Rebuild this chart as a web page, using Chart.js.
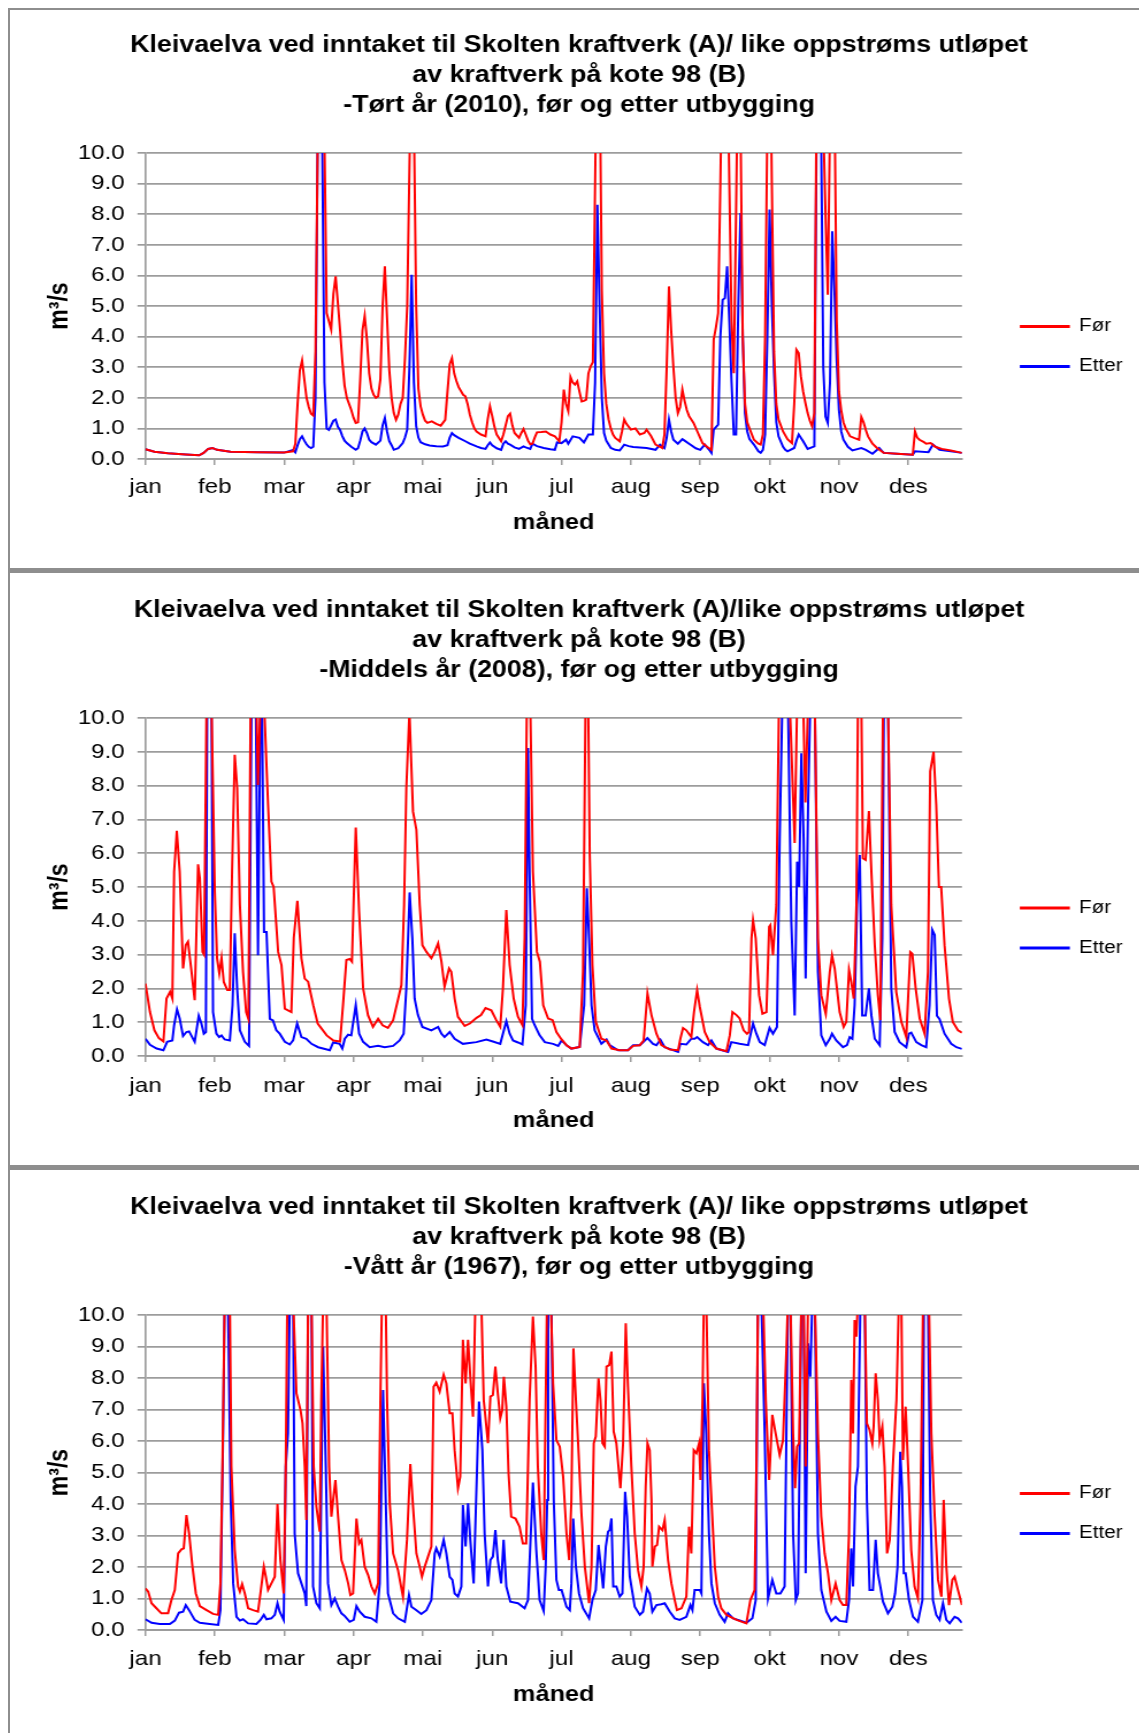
<!DOCTYPE html>
<html>
<head>
<meta charset="utf-8">
<script src="https://cdn.jsdelivr.net/npm/chart.js@4.4.1/dist/chart.umd.min.js"></script>
<style>
  html, body { margin: 0; padding: 0; background: #fff; overflow: hidden; width: 1139px; height: 1733px; }
  .wrap { position: absolute; left: 10px; transform-origin: 0 0; transform: scaleX(1.15); }
  .frame { position: absolute; background: #8e8e8e; z-index: 5; }
</style>
</head>
<body>
<div class="wrap" style="top:31px"><canvas id="dry" width="990" height="631"></canvas></div>
<div class="wrap" style="top:596px"><canvas id="mid" width="990" height="664"></canvas></div>
<div class="wrap" style="top:1193px"><canvas id="wet" width="990" height="641"></canvas></div>

<div class="frame" style="left:8px;top:8px;width:2px;height:1725px"></div>
<div class="frame" style="left:8px;top:8px;width:1131px;height:2px"></div>
<div class="frame" style="left:8px;top:568px;width:1131px;height:5px"></div>
<div class="frame" style="left:8px;top:1165px;width:1131px;height:5px"></div>

<script>
// month axis: Excel category axis with a tick every 31 days
const monthLabels = ['jan', 'feb', 'mar', 'apr', 'mai', 'jun', 'jul', 'aug', 'sep', 'okt', 'nov', 'des'];
const monthStarts = [0, 31, 62, 93, 124, 155, 186, 217, 248, 279, 310, 341];

// [day, m3/s]
const dryFor = [[0,0.32],[4,0.24],[10,0.19],[18,0.15],[24,0.12],[26,0.2],[28,0.33],[30,0.36],[32,0.3],[38,0.24],[50,0.22],[62,0.21],[66,0.25],[67,0.5],[68,1.8],[69,2.9],[70,3.22],[71,2.6],[72,2.0],[73,1.7],[74,1.48],[75,1.42],[76,3.5],[77,10.5],[78,15],[79,14],[80,10.5],[81,4.77],[82,4.5],[83,4.23],[84,5.4],[85,5.97],[86,5.1],[87,4.2],[88,3.2],[89,2.4],[90,2.0],[91,1.8],[92,1.6],[93,1.35],[94,1.18],[95,1.2],[96,2.6],[97,4.2],[98,4.68],[99,3.9],[100,2.8],[101,2.3],[102,2.1],[103,2.0],[104,2.05],[105,2.6],[106,5.0],[107,6.3],[108,4.6],[109,2.9],[110,2.0],[111,1.5],[112,1.28],[113,1.45],[114,1.8],[115,2.0],[116,3.3],[117,5.0],[118,9.5],[119,14],[120,11],[121,5.0],[122,2.3],[123,1.72],[124,1.45],[125,1.25],[126,1.18],[128,1.23],[130,1.15],[132,1.09],[134,1.28],[135,2.2],[136,3.1],[137,3.3],[138,2.8],[139,2.55],[140,2.35],[142,2.1],[143,2.05],[144,1.8],[145,1.45],[146,1.2],[147,1.0],[148,0.9],[150,0.8],[152,0.74],[153,1.3],[154,1.72],[155,1.4],[156,1.05],[157,0.8],[159,0.58],[160,0.8],[161,1.1],[162,1.4],[163,1.48],[164,1.1],[165,0.85],[167,0.69],[168,0.85],[169,0.98],[170,0.8],[171,0.6],[172,0.48],[173,0.5],[174,0.7],[175,0.87],[177,0.88],[179,0.9],[181,0.8],[183,0.74],[185,0.58],[186,1.2],[187,2.27],[188,1.8],[189,1.56],[190,2.68],[191,2.5],[192,2.43],[193,2.54],[194,2.2],[195,1.88],[196,1.9],[197,1.94],[198,2.8],[199,3.03],[200,3.16],[201,9.0],[202,15],[203,13],[204,5.5],[205,2.8],[206,1.8],[207,1.3],[208,1.0],[209,0.8],[210,0.69],[212,0.58],[213,0.9],[214,1.29],[215,1.15],[217,0.96],[219,1.0],[221,0.8],[223,0.85],[224,0.96],[226,0.75],[228,0.47],[230,0.4],[231,0.36],[232,0.8],[233,3.0],[234,5.64],[235,4.2],[236,3.0],[237,2.0],[238,1.5],[239,1.7],[240,2.27],[241,1.9],[242,1.6],[243,1.4],[245,1.18],[247,0.85],[249,0.52],[251,0.4],[253,0.3],[254,3.9],[255,4.3],[256,4.77],[257,9.0],[258,14],[260,14],[261,9.0],[262,4.5],[263,2.8],[264,8.0],[265,14],[266,11],[267,4.0],[268,1.8],[269,1.2],[270,1.0],[272,0.63],[274,0.5],[275,0.47],[276,0.8],[277,4.0],[278,11],[279,15],[280,9.0],[281,3.5],[282,1.8],[283,1.29],[285,0.9],[287,0.65],[289,0.52],[290,1.8],[291,3.57],[292,3.46],[293,2.7],[294,2.2],[295,1.83],[296,1.5],[297,1.25],[298,1.07],[299,1.5],[300,12],[301,16],[302,15],[303,11],[304,8.0],[305,5.37],[306,11],[307,15],[308,12],[309,4.5],[310,2.2],[311,1.6],[312,1.2],[313,1.0],[315,0.74],[317,0.68],[319,0.63],[320,1.37],[321,1.2],[322,0.95],[323,0.74],[325,0.5],[327,0.36],[330,0.2],[336,0.17],[343,0.14],[344,0.9],[345,0.7],[346,0.63],[348,0.55],[349,0.5],[351,0.52],[353,0.4],[356,0.33],[360,0.28],[365,0.2]];
const dryEtter = [[0,0.32],[4,0.24],[10,0.19],[18,0.15],[24,0.12],[26,0.2],[28,0.33],[30,0.36],[32,0.3],[38,0.24],[50,0.22],[62,0.21],[66,0.3],[67,0.22],[68,0.45],[69,0.65],[70,0.74],[71,0.6],[72,0.48],[73,0.4],[74,0.36],[75,0.4],[76,2.0],[77,10.5],[78,16],[79,10.5],[80,2.5],[81,1.0],[82,0.95],[83,1.1],[84,1.25],[85,1.29],[86,1.05],[87,0.95],[88,0.75],[89,0.6],[90,0.52],[92,0.4],[94,0.3],[95,0.35],[96,0.6],[97,0.9],[98,1.0],[99,0.85],[100,0.63],[101,0.55],[103,0.47],[105,0.6],[106,1.1],[107,1.34],[108,0.9],[109,0.58],[110,0.45],[111,0.3],[113,0.35],[115,0.52],[116,0.7],[117,0.96],[118,3.0],[119,6.02],[120,2.5],[121,1.07],[122,0.7],[123,0.55],[125,0.48],[127,0.44],[130,0.42],[133,0.41],[135,0.45],[136,0.7],[137,0.85],[138,0.78],[140,0.69],[143,0.58],[145,0.5],[148,0.41],[150,0.36],[152,0.33],[153,0.45],[154,0.54],[155,0.45],[157,0.35],[159,0.3],[160,0.5],[161,0.58],[162,0.5],[163,0.47],[165,0.38],[167,0.33],[169,0.41],[170,0.38],[172,0.33],[173,0.5],[175,0.42],[178,0.36],[181,0.32],[183,0.3],[184,0.54],[186,0.52],[188,0.63],[189,0.5],[191,0.74],[194,0.69],[196,0.54],[198,0.8],[200,0.8],[201,2.5],[202,8.31],[203,5.0],[204,2.0],[205,0.85],[206,0.6],[208,0.36],[210,0.3],[212,0.28],[214,0.47],[216,0.42],[218,0.39],[224,0.36],[228,0.3],[230,0.47],[232,0.36],[233,0.7],[234,1.29],[235,0.9],[236,0.63],[238,0.5],[240,0.65],[241,0.6],[243,0.5],[246,0.35],[248,0.3],[250,0.47],[252,0.3],[253,0.2],[254,0.96],[256,1.12],[257,4.0],[258,5.2],[259,5.26],[260,6.3],[261,4.5],[262,2.5],[263,0.8],[264,0.8],[265,5.0],[266,8.04],[267,4.0],[268,1.5],[269,0.9],[270,0.65],[272,0.47],[274,0.25],[275,0.2],[276,0.3],[277,0.8],[278,4.0],[279,8.15],[280,5.0],[281,2.8],[282,1.2],[283,0.74],[285,0.4],[286,0.3],[287,0.25],[290,0.36],[291,0.6],[292,0.8],[294,0.58],[296,0.33],[299,0.41],[300,11],[301,16],[302,11],[303,3.0],[304,1.39],[305,1.18],[306,2.5],[307,7.44],[308,5.5],[309,3.2],[310,1.6],[311,0.9],[312,0.63],[314,0.4],[316,0.28],[320,0.36],[322,0.3],[325,0.17],[328,0.36],[330,0.2],[336,0.17],[343,0.14],[344,0.25],[350,0.22],[352,0.47],[355,0.3],[360,0.25],[365,0.2]];

const midFor = [[0,2.14],[2,1.3],[4,0.76],[6,0.53],[8,0.43],[9.4,1.7],[11,1.9],[12,1.7],[12.8,5.45],[14,6.66],[15.3,5.45],[16.8,2.59],[18,3.28],[19,3.38],[20.6,2.49],[22,1.65],[23.5,5.67],[24.3,5.26],[25.5,3.08],[26.2,3.0],[27.3,10.5],[28.4,15],[29.5,10.5],[31,4.86],[32,2.89],[33,2.44],[34,2.9],[35,2.19],[36.6,1.95],[37.7,1.95],[38.7,5.45],[39.9,8.91],[41,7.92],[42.2,4.47],[43.6,2.49],[45,1.3],[46,1.1],[47,10.5],[48.3,16],[49.6,10.5],[50.3,8.02],[51.4,10.5],[52.2,14],[53,10.5],[53.8,9.1],[54.8,7.43],[56.3,5.16],[57.3,5.0],[59.3,3.08],[60.8,2.69],[62.3,1.4],[63.7,1.35],[65.2,1.3],[66.3,3.5],[67.9,4.59],[69.7,2.89],[71.2,2.29],[72.7,2.2],[75,1.5],[77,0.96],[81,0.61],[84,0.46],[87,0.43],[88.3,1.5],[89.8,2.84],[91.3,2.87],[92.3,2.79],[94,6.76],[95.5,4.27],[97.3,2.0],[99.5,1.2],[101.7,0.86],[104,1.1],[106,0.91],[108.4,0.83],[110.7,1.06],[113,1.7],[114.4,2.1],[115.6,4.47],[116.6,7.92],[118,10.2],[119.6,7.23],[121.1,6.69],[122.6,4.47],[123.8,3.28],[125.6,3.08],[127.8,2.89],[129.3,3.08],[130.8,3.33],[132.3,2.79],[133.7,2.05],[135.7,2.59],[136.7,2.49],[138.2,1.7],[139.7,1.16],[142.7,0.89],[145,0.96],[148,1.13],[150,1.21],[152,1.42],[154.6,1.35],[156.8,1.06],[158.6,0.86],[159.8,2.0],[161.3,4.32],[162.8,2.69],[164.6,1.7],[166.5,1.16],[168.5,0.91],[169.5,3.5],[170.5,10.5],[171.3,15],[172,10.5],[173.2,5.45],[175,3.08],[176.3,2.79],[177.8,1.5],[180,1.11],[182,1.06],[183.7,0.71],[186,0.49],[188.2,0.32],[190.4,0.22],[194.1,0.27],[195.6,2.5],[196.8,11],[197.3,13],[197.9,10.5],[198.6,5.95],[199.8,2.69],[201.3,1.01],[203.8,0.51],[206.1,0.46],[208.3,0.22],[212,0.17],[215.7,0.17],[218,0.3],[221,0.32],[222.7,0.46],[224.4,1.85],[226.2,1.21],[228.4,0.66],[230.6,0.32],[234.4,0.19],[238.1,0.17],[239.1,0.51],[240.3,0.83],[241.8,0.76],[244,0.56],[245.2,1.3],[246.6,1.95],[247.8,1.45],[250,0.71],[252.2,0.41],[255.2,0.22],[259.7,0.14],[261.2,0.61],[262.4,1.3],[264.2,1.21],[265.6,1.11],[267.4,0.76],[268.9,0.66],[269.8,0.71],[270.9,3.48],[271.6,4.02],[272.8,3.48],[274.3,1.8],[275.8,1.25],[277.6,1.3],[278.8,3.82],[279.3,3.87],[280.5,2.98],[282,4.47],[283.2,10.5],[285.5,16],[288,10.5],[290.2,6.3],[291.3,10.5],[292.6,14],[294,10.5],[295,7.5],[296.2,10.5],[297.7,16],[299.2,10.5],[300.6,3.48],[302.1,1.8],[304.1,1.25],[305.9,2.49],[306.9,2.98],[308.1,2.59],[310.3,1.3],[312.1,0.86],[313.3,1.01],[314.5,2.54],[315.5,2.19],[316.6,1.7],[317.8,4.47],[318.5,10.5],[319.3,14],[320,10.5],[320.7,5.85],[321.9,5.8],[323.4,7.25],[324.5,5.45],[326,3.28],[327.4,1.8],[328.5,1.06],[329.7,10.5],[330.8,16],[331.9,10.5],[333.4,4.47],[335.6,1.9],[337.9,1.01],[340.1,0.56],[340.9,1.7],[341.9,3.08],[342.8,3.03],[344.3,2.0],[346.1,1.11],[348.3,0.66],[349.8,2.49],[350.8,8.42],[352.3,9.0],[353.5,7.43],[354.7,5.0],[355.7,5.0],[357.2,3.28],[359.2,1.7],[360.9,1.01],[363.2,0.76],[365,0.69]];
const midEtter = [[0,0.51],[2,0.33],[5,0.22],[8,0.17],[9.7,0.42],[12,0.46],[12.8,0.91],[14.1,1.38],[15.3,1.11],[16.8,0.59],[18.3,0.71],[19.5,0.73],[22,0.42],[23.8,1.19],[25,0.96],[26.1,0.66],[27,0.71],[27.6,10.5],[28.5,16],[29.5,10.5],[30.2,1.3],[31.7,0.66],[32.9,0.56],[34,0.61],[35.4,0.49],[37.7,0.46],[38.9,1.5],[39.9,3.63],[41,1.98],[42.2,0.76],[44.4,0.42],[46.3,0.3],[47.4,10.5],[48.3,16],[49.3,10.5],[50.3,2.98],[51.4,10.5],[51.9,12],[52.3,8.9],[53,3.67],[54.1,3.67],[55.6,1.1],[57,1.05],[58.5,0.76],[60,0.66],[62.3,0.42],[64.5,0.34],[66,0.46],[67.8,0.96],[69.7,0.56],[71.9,0.51],[74.2,0.36],[77.2,0.26],[82.4,0.17],[83.9,0.4],[86.8,0.36],[88,0.22],[89.1,0.51],[90.6,0.63],[92,0.61],[94,1.5],[95.5,0.66],[97.3,0.42],[100.2,0.26],[104,0.3],[106.9,0.26],[110.7,0.3],[113.6,0.46],[115.4,0.66],[116.6,2.0],[118.1,4.84],[119.3,3.48],[120.3,1.7],[121.8,1.21],[123.8,0.86],[127.8,0.76],[130.8,0.86],[132.3,0.66],[133.7,0.56],[136,0.71],[138.2,0.51],[141.9,0.36],[147.9,0.41],[152.4,0.49],[155.3,0.43],[158.6,0.36],[159.8,0.66],[161.3,1.03],[162.8,0.66],[164.3,0.46],[166.5,0.4],[168.5,0.34],[170,1.5],[171,9.11],[171.7,5.45],[172.8,1.1],[174,0.91],[176.2,0.61],[178.5,0.41],[182.2,0.36],[184.5,0.3],[186,0.46],[188.2,0.32],[190.4,0.22],[194.1,0.27],[196.1,1.5],[197.3,4.96],[198.3,3.48],[199.4,1.5],[200.8,0.76],[203.8,0.36],[206.1,0.49],[207.5,0.32],[211.3,0.17],[215.7,0.17],[218,0.32],[221,0.32],[224.4,0.53],[226.9,0.36],[228.4,0.32],[230.2,0.48],[232.1,0.26],[238.1,0.12],[239.1,0.36],[241.8,0.34],[244,0.51],[245.5,0.51],[246.6,0.56],[249.2,0.41],[251.5,0.32],[253,0.46],[255.2,0.22],[260.4,0.12],[261.9,0.41],[265.6,0.36],[269.4,0.32],[271.6,0.96],[273.1,0.66],[274.6,0.41],[276.8,0.32],[279,0.83],[280.5,0.66],[282.3,0.86],[283.5,6.44],[284.7,10.5],[286,16],[287.2,10.5],[288.7,3.97],[290.2,1.2],[291.3,5.75],[292.2,5.0],[293.2,8.96],[294.2,6.44],[295.1,2.29],[296.2,7.43],[297.2,10.5],[298.2,14],[299.2,10.5],[300.6,2.49],[302.1,0.61],[304.1,0.32],[305.9,0.51],[306.9,0.66],[308.8,0.46],[311.8,0.26],[313.6,0.32],[314.8,0.56],[316,0.51],[317,1.5],[318.1,4.47],[319.3,5.95],[320.4,1.2],[321.9,1.2],[323.4,2.0],[324.5,1.2],[326,0.51],[328.2,0.32],[329.4,3.48],[330.1,10.5],[331,15],[331.9,10.5],[333.4,2.0],[334.9,0.71],[337.1,0.41],[340.1,0.26],[341.3,0.66],[342.3,0.69],[344.6,0.41],[346.8,0.32],[349,0.26],[350.5,1.5],[351.7,3.73],[352.8,3.58],[353.8,1.19],[355,1.09],[357.2,0.66],[360.2,0.36],[362.5,0.26],[365,0.21]];

const wetFor = [[0,1.32],[1.2,1.22],[2.7,0.85],[4.9,0.69],[7.1,0.53],[10.1,0.53],[11.6,0.95],[13.1,1.27],[14.6,2.43],[16.1,2.56],[17.1,2.59],[18.3,3.65],[19.5,3.07],[21,2.01],[22.5,1.16],[24.3,0.76],[27.3,0.63],[30.2,0.51],[32.5,0.48],[33.5,1.48],[34.4,5.19],[35.4,10.5],[36.5,16],[37.7,10.5],[38.4,5.19],[39.9,2.54],[41.4,1.38],[42.2,1.22],[43.2,1.46],[44.4,1.16],[45.9,0.69],[48.1,0.63],[50.3,0.58],[51.4,1.16],[52.9,2.01],[53.8,1.69],[54.8,1.27],[56.3,1.48],[57.8,1.69],[59,4.0],[60.3,2.22],[61.8,1.16],[62.7,5.19],[63.4,10.5],[64.7,16],[66,10.5],[67.5,7.51],[69.3,6.98],[70.2,6.56],[71.2,5.19],[71.9,3.49],[72.7,10.5],[73.5,14],[74.2,10.5],[75.2,5.19],[76.4,3.92],[77.9,3.12],[78.6,7.3],[79.4,10.5],[80.2,14],[80.9,10.5],[82.1,5.19],[83.1,3.6],[83.9,4.13],[84.9,4.76],[86.1,3.6],[87.6,2.22],[89.1,1.9],[90.6,1.48],[91.6,1.11],[92.8,1.16],[94.3,3.54],[95.5,2.75],[96.5,2.86],[98,2.01],[99.5,1.75],[101,1.38],[102.5,1.16],[104,1.48],[105,7.3],[105.7,10.5],[106.6,16],[107.4,10.5],[108,7.3],[109.2,4.02],[110.7,2.43],[112.9,1.9],[115.1,1.06],[116.9,2.86],[118.4,5.27],[119.6,3.92],[121.1,2.43],[122.6,2.01],[123.6,1.69],[124.8,2.01],[126.3,2.33],[127.8,2.65],[128.8,7.72],[130,7.85],[131.5,7.57],[133.3,8.1],[134.5,7.83],[136,6.88],[137.2,6.88],[138.2,5.71],[139.7,4.5],[140.7,4.87],[141.9,9.21],[143.1,7.83],[144.2,9.21],[145.2,8.04],[146.4,6.77],[147.5,10.5],[148.8,14],[150.1,10.5],[151.2,7.3],[153.1,5.93],[154.2,7.41],[155.3,7.46],[156.4,8.36],[157.5,7.51],[158.6,6.72],[159.5,6.98],[160.2,8.04],[161.3,7.09],[162.3,4.97],[163.5,3.6],[165.4,3.54],[167.2,3.28],[168.7,2.75],[170.2,2.75],[171.7,7.3],[173.2,9.95],[174.4,8.36],[175.4,5.19],[176.9,3.07],[178,2.22],[178.9,7.3],[179.5,10.5],[180.3,15],[181.2,10.5],[182.2,7.83],[183.7,6.03],[185.2,5.82],[186.7,4.87],[188.2,3.07],[189.4,2.22],[190.4,4.13],[191.3,8.94],[192.4,7.3],[193.4,5.93],[194.9,3.7],[196.4,2.01],[198.3,0.85],[199.4,2.01],[200.4,5.93],[201.3,6.14],[202.5,7.99],[203.4,7.3],[204.3,5.93],[205.3,5.82],[206.1,8.36],[207.3,8.41],[208.3,8.84],[209.3,6.3],[210.5,5.93],[212.3,4.5],[213.5,5.93],[214.7,9.74],[215.7,7.72],[217.2,5.19],[218.7,3.07],[220.2,1.9],[221.7,1.38],[222.7,2.01],[223.6,4.55],[224.4,5.93],[225.4,5.71],[226.2,4.13],[226.6,2.01],[227.7,2.65],[228.7,2.7],[229.6,3.28],[231.1,3.17],[232.1,3.49],[233.6,2.22],[235.1,1.48],[236.6,0.95],[237.6,0.63],[239.6,0.69],[241.8,1.06],[243,3.28],[244,2.43],[245.1,5.71],[246.3,5.61],[247.5,5.93],[248.1,4.76],[249,7.3],[249.6,10.5],[250.2,14],[250.7,10.5],[251.9,5.71],[253,4.13],[254.5,2.01],[256,1.06],[257.4,0.69],[259.7,0.48],[264.2,0.32],[268.6,0.21],[270.4,0.95],[272.3,1.27],[273.1,5.19],[273.8,10.5],[275,16],[276.1,10.5],[277.3,7.3],[278.8,4.76],[280.2,6.83],[281.7,6.24],[283.5,5.56],[285,6.03],[286.5,8.89],[287.2,10.5],[287.8,13],[288.3,10.5],[289.5,6.24],[290.4,4.5],[291.3,5.82],[292.2,5.93],[293.2,10.5],[293.7,13],[294.2,10.5],[295.1,5.19],[296.2,10.5],[297.7,16],[299.2,10.5],[300.6,6.24],[302.1,3.6],[303.6,2.43],[305.1,1.8],[306.6,0.95],[308.5,1.48],[310.3,0.95],[311.8,0.79],[313.3,0.79],[314.5,3.06],[315.5,7.94],[316.3,6.24],[317,9.84],[317.8,9.31],[318.5,10.5],[320,15],[321.5,10.5],[322.5,6.56],[323.7,6.35],[324.9,5.93],[325.5,6.46],[326.4,8.15],[327.4,7.3],[328.2,6.03],[329.4,6.46],[330.4,5.19],[331.5,2.43],[332.7,2.86],[334.1,5.19],[335.7,7.3],[336.8,10.5],[337.3,13],[337.9,10.5],[338.6,5.4],[339.8,7.09],[340.9,5.19],[342.3,2.54],[343.8,1.38],[345.3,1.01],[346.5,4.13],[347.6,10.5],[348.9,16],[350.2,10.5],[351.3,6.24],[352.8,3.6],[354.3,1.59],[355.8,1.06],[356.8,4.13],[358,2.01],[359.2,0.79],[360.7,1.59],[361.7,1.69],[363.2,1.27],[365,0.79]];
const wetEtter = [[0,0.34],[2.7,0.23],[6.4,0.19],[10.9,0.19],[13.1,0.3],[15,0.55],[16.8,0.58],[18,0.79],[19.5,0.63],[22,0.32],[24.3,0.23],[28.7,0.19],[32.5,0.16],[33.5,0.63],[34.7,6.25],[35.4,10.5],[36.2,16],[36.9,10.5],[38.1,4.13],[39.2,1.48],[40.7,0.42],[42.2,0.3],[43.6,0.34],[45.9,0.21],[49.6,0.19],[51.4,0.32],[52.9,0.48],[54.1,0.34],[56.3,0.37],[57.8,0.48],[59,0.85],[60,0.58],[61.8,0.32],[62.7,5.19],[63.7,6.24],[64.5,10.5],[65.3,15],[66,10.5],[66.7,3.06],[68.2,1.8],[69.7,1.48],[71.2,1.16],[71.9,0.76],[72.7,10.5],[73.5,15],[74.2,10.5],[74.9,1.38],[76.4,0.85],[77.9,0.69],[79.4,9.0],[80.6,5.19],[81.6,1.48],[83.1,0.79],[84.6,1.0],[86.1,0.74],[87.6,0.53],[89.1,0.44],[91.3,0.26],[93.1,0.32],[94.3,0.76],[95.8,0.58],[98,0.42],[101,0.37],[103.2,0.26],[104.7,1.48],[106.2,7.62],[107.4,4.13],[108.4,1.16],[110.7,0.53],[112.9,0.37],[115.9,0.26],[117.8,1.11],[118.9,0.74],[121.1,0.63],[123.3,0.51],[125.6,0.63],[127.8,0.95],[129.3,2.43],[130,2.59],[131.5,2.33],[133.3,2.86],[134.5,2.43],[136,1.69],[137.2,1.59],[138.2,1.16],[139.7,1.06],[141.2,1.38],[141.9,3.97],[143.1,2.65],[144.2,4.02],[145.2,2.86],[146.7,1.48],[149.1,7.25],[150.6,5.71],[151.6,3.06],[153.1,1.38],[154.2,2.22],[155.3,2.33],[156.4,3.17],[157.5,2.22],[159,1.48],[160.1,2.86],[161.3,1.38],[163.1,0.9],[166.5,0.85],[169.5,0.69],[171,0.95],[173.2,4.68],[174.7,2.54],[176.2,0.95],[178,0.6],[178.9,2.01],[179.6,4.13],[180,10.5],[180.7,15],[181.4,10.5],[182.5,4.13],[183.7,1.59],[184.8,1.27],[186,1.27],[188.2,0.74],[189.7,0.63],[190.4,1.48],[191.2,3.54],[192.4,2.01],[193.8,1.16],[195.6,0.69],[198.3,0.37],[199.8,0.95],[201.3,1.27],[202.5,2.7],[203.4,2.12],[204.6,1.32],[205.8,2.65],[206.8,3.12],[207.5,3.17],[208.3,3.54],[209.1,1.38],[210.5,1.38],[212,1.06],[213.2,1.16],[214.4,4.39],[215.3,3.6],[216.5,1.69],[218.7,0.74],[221,0.48],[222.4,0.58],[224.2,1.32],[225.4,1.16],[226.6,0.58],[228.4,0.79],[230.6,0.82],[232.1,0.85],[234.4,0.58],[236.6,0.37],[238.8,0.32],[241.8,0.42],[243.6,0.79],[244.5,0.63],[245.5,1.27],[247.8,1.27],[248.5,1.16],[249.6,7.83],[250.7,6.24],[251.9,3.06],[253,1.48],[254.5,0.85],[256.7,0.48],[258.9,0.26],[260.4,0.53],[262.7,0.37],[265.6,0.3],[268.6,0.23],[271.3,0.37],[272.8,0.95],[273.8,10.5],[274.6,16],[275.3,10.5],[276.8,6.24],[278.3,1.0],[280.2,1.59],[282,1.16],[283.8,1.16],[285.7,1.38],[287.2,10.5],[287.8,14],[288.3,10.5],[289.5,3.06],[290.7,0.95],[291.7,1.16],[293.2,10.5],[293.7,13],[294.2,10.5],[295.1,1.8],[296.2,9.1],[297.2,8.04],[298.1,10.5],[298.7,13],[299.2,10.5],[300.6,3.06],[302.1,1.27],[304.4,0.58],[306.6,0.29],[308.5,0.42],[310.3,0.29],[313.3,0.26],[314.5,0.95],[315.5,2.59],[316.3,1.38],[317.4,4.55],[318.5,5.19],[319.6,10.5],[320.5,15],[321.5,10.5],[322.5,4.13],[323.7,1.27],[325.2,1.27],[326.4,2.86],[327.4,1.8],[328.5,1.38],[329.7,0.9],[331.9,0.53],[333.9,0.74],[335.1,1.16],[336.2,2.01],[337.4,5.66],[338.2,4.55],[339,1.8],[339.8,1.8],[341.3,0.95],[343.1,0.42],[345.3,0.26],[347.3,0.95],[348,10.5],[348.9,16],[349.8,10.5],[350.8,4.13],[352,0.95],[353.5,0.48],[355,0.32],[356.5,0.85],[358,0.32],[359.5,0.21],[361.7,0.42],[363.2,0.37],[365,0.23]];

const titleTop = 'Kleivaelva ved inntaket til Skolten kraftverk (A)/ like oppstrøms utløpet';
const titleMidTop = 'Kleivaelva ved inntaket til Skolten kraftverk (A)/like oppstrøms utløpet';
const titleSecond = 'av kraftverk på kote 98 (B)';

Chart.defaults.font.family = "'Liberation Sans', Arial, Helvetica, sans-serif";
Chart.defaults.color = '#000';

const GRID = '#9c9c9c';

function toPoints(pairs) {
    return pairs.map(p => ({ x: p[0], y: p[1] }));
}

function flowChart(id, title, forPairs, etterPairs, xAxisHeight, tickPad) {
    return new Chart(document.getElementById(id), {
        type: 'line',
        data: {
            datasets: [
                { label: 'Før', data: toPoints(forPairs), borderColor: '#ff0000', backgroundColor: '#ff0000', borderWidth: 2, pointRadius: 0, tension: 0 },
                { label: 'Etter', data: toPoints(etterPairs), borderColor: '#0000ff', backgroundColor: '#0000ff', borderWidth: 2, pointRadius: 0, tension: 0 }
            ]
        },
        options: {
            responsive: false,
            animation: false,
            devicePixelRatio: 1,
            events: [],
            layout: { padding: { left: 17.5, right: 17.9, top: 0, bottom: 0 } },
            plugins: {
                tooltip: { enabled: false },
                title: {
                    display: true,
                    text: title,
                    color: '#000',
                    font: { size: 23.3, weight: 'bold', lineHeight: '30px' },
                    padding: { top: 0, bottom: 32 }
                },
                legend: {
                    position: 'right',
                    align: 'center',
                    maxWidth: 115,
                    labels: { boxWidth: 41.5, boxHeight: 1, padding: 22, color: '#000', font: { size: 18 } }
                }
            },
            scales: {
                x: {
                    type: 'linear',
                    min: 0,
                    max: 365,
                    afterBuildTicks: s => { s.ticks = monthStarts.map(v => ({ value: v })); },
                    afterFit: s => { s.height = xAxisHeight; },
                    ticks: {
                        autoSkip: false,
                        maxRotation: 0,
                        padding: tickPad,
                        color: '#000',
                        font: { size: 21 },
                        callback: v => monthLabels[monthStarts.indexOf(v)]
                    },
                    grid: { drawOnChartArea: false, drawTicks: true, tickLength: 6, color: GRID, lineWidth: 1.5 },
                    border: { display: true, color: GRID, width: 2 },
                    title: { display: true, text: 'måned', color: '#000', font: { size: 22, weight: 'bold' }, padding: { top: 0, bottom: 126 } }
                },
                y: {
                    min: 0,
                    max: 10,
                    afterFit: s => { s.width = 100.3; },
                    ticks: { stepSize: 1, padding: 11, color: '#000', font: { size: 21 }, callback: v => v.toFixed(1) },
                    grid: { color: GRID, lineWidth: 1.7, tickLength: 7, drawTicks: true },
                    border: { display: true, color: GRID, width: 1.7 },
                    title: { display: true, text: 'm³/s', color: '#000', font: { size: 23, weight: 'bold' }, padding: { top: 12, bottom: 0 } }
                },
                gap: {
                    type: 'linear',
                    axis: 'y',
                    position: 'right',
                    display: true,
                    grid: { display: false },
                    ticks: { display: false },
                    border: { display: false },
                    afterFit: s => { s.width = 29.3; }
                }
            }
        }
    });
}

flowChart('dry', [titleTop, titleSecond, '-Tørt år (2010), før og etter utbygging'], dryFor, dryEtter, 203, 10);
flowChart('mid', [titleMidTop, titleSecond, '-Middels år (2008), før og etter utbygging'], midFor, midEtter, 204, 11.4);
flowChart('wet', [titleTop, titleSecond, '-Vått år (1967), før og etter utbygging'], wetFor, wetEtter, 204, 10.9);
</script>
</body>
</html>
